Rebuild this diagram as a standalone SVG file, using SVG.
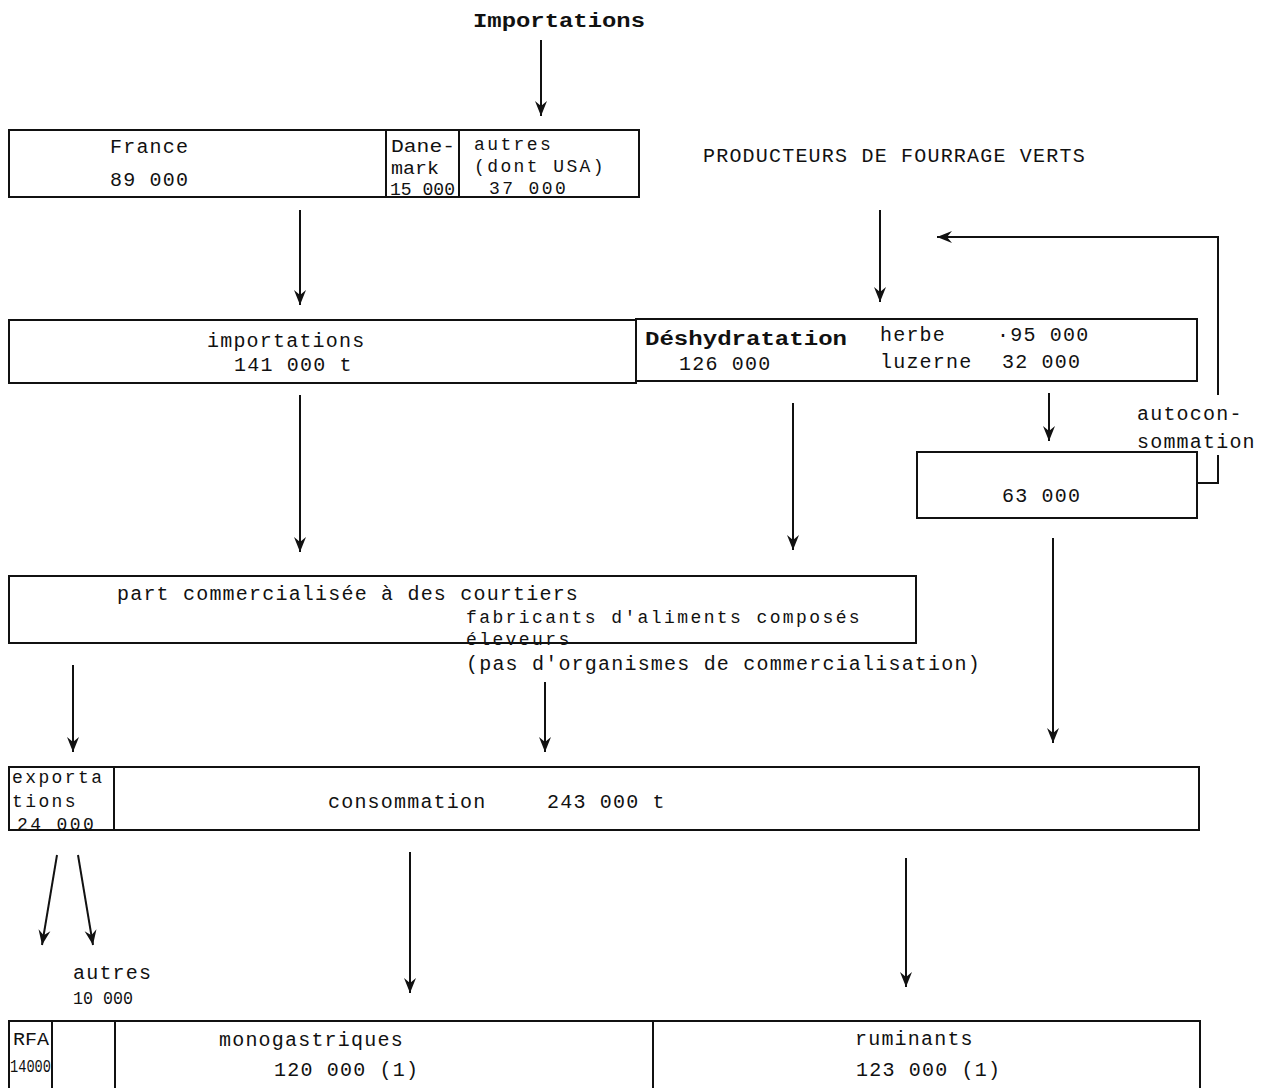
<svg xmlns="http://www.w3.org/2000/svg" width="1271" height="1088" viewBox="0 0 1271 1088">
  <style>
    text { font-family: "Liberation Mono", "DejaVu Sans Mono", monospace; font-size: 20px; letter-spacing: 1.2px; fill: #111; }
    .b { font-weight: bold; letter-spacing: 0; }
    .t { font-size: 18px; letter-spacing: 2.4px; }
    .sm { font-size: 18px; letter-spacing: 0; }
    .box { fill: none; stroke: #111; stroke-width: 2; }
    .ln { fill: none; stroke: #111; stroke-width: 2; }
    .arr { fill: none; stroke: #111; stroke-width: 2; marker-end: url(#ah); }
  </style>
  <defs>
    <marker id="ah" markerUnits="userSpaceOnUse" markerWidth="16" markerHeight="14" viewBox="0 0 16 14" refX="15" refY="7" orient="auto">
      <path d="M0,1 L15,7 L0,13 L5,7 Z" fill="#111"/>
    </marker>
  </defs>

  <!-- title above the import box -->
  <text class="b" x="473" y="27" textLength="172" lengthAdjust="spacingAndGlyphs">Importations</text>

  <!-- origin of imports -->
  <g id="origines">
    <rect class="box" x="9" y="130" width="630" height="67"/>
    <line class="ln" x1="386" y1="130" x2="386" y2="197"/>
    <line class="ln" x1="459" y1="130" x2="459" y2="197"/>
    <text x="110" y="153">France</text>
    <text x="110" y="186">89 000</text>
    <text class="sm" x="391" y="152" textLength="64" lengthAdjust="spacingAndGlyphs">Dane-</text>
    <text class="sm" x="391" y="174" textLength="48" lengthAdjust="spacingAndGlyphs">mark</text>
    <text class="sm" x="390" y="195" textLength="65" lengthAdjust="spacingAndGlyphs">15 000</text>
    <text class="t" x="474" y="150">autres</text>
    <text class="t" x="474" y="172">(dont USA)</text>
    <text class="t" x="489" y="194">37 000</text>
  </g>

  <g id="producteurs">
    <text x="703" y="162">PRODUCTEURS DE FOURRAGE VERTS</text>
  </g>

  <!-- imports total and dehydration -->
  <g id="importations">
    <rect class="box" x="9" y="320" width="627" height="63"/>
    <text x="207" y="347">importations</text>
    <text x="234" y="371">141 000 t</text>
  </g>
  <g id="deshydratation">
    <rect class="box" x="636" y="319" width="561" height="62"/>
    <text class="b" x="645" y="345" textLength="202" lengthAdjust="spacingAndGlyphs">Déshydratation</text>
    <text x="679" y="370">126 000</text>
    <text x="880" y="341">herbe</text>
    <text x="997" y="341">·95 000</text>
    <text x="880" y="368">luzerne</text>
    <text x="1002" y="368">32 000</text>
  </g>

  <g id="autoconsommation">
    <rect class="box" x="917" y="452" width="280" height="66"/>
    <text x="1002" y="502">63 000</text>
  </g>
  <text x="1137" y="420">autocon-</text>
  <text x="1137" y="448">sommation</text>

  <!-- marketed share -->
  <g id="commercialisation">
    <rect class="box" x="9" y="576" width="907" height="67"/>
    <text x="117" y="600">part commercialisée à des courtiers</text>
    <text class="t" x="466" y="623">fabricants d'aliments composés</text>
    <text class="t" x="466" y="645">éleveurs</text>
  </g>
  <text x="466" y="670">(pas d'organismes de commercialisation)</text>

  <!-- consumption -->
  <g id="consommation">
    <rect class="box" x="9" y="767" width="1190" height="63"/>
    <line class="ln" x1="114" y1="767" x2="114" y2="830"/>
    <text class="t" x="12" y="783">exporta</text>
    <text class="t" x="12" y="807">tions</text>
    <text class="t" x="17" y="830">24 000</text>
    <text x="328" y="808">consommation</text>
    <text x="547" y="808">243 000 t</text>
  </g>

  <text x="73" y="979">autres</text>
  <text class="sm" x="73" y="1004" textLength="60" lengthAdjust="spacingAndGlyphs">10 000</text>

  <!-- final uses -->
  <g id="utilisations">
    <rect class="box" x="9" y="1021" width="1191" height="90"/>
    <line class="ln" x1="52" y1="1021" x2="52" y2="1088"/>
    <line class="ln" x1="115" y1="1021" x2="115" y2="1088"/>
    <line class="ln" x1="653" y1="1021" x2="653" y2="1088"/>
    <text class="sm" x="13" y="1045" textLength="36" lengthAdjust="spacingAndGlyphs">RFA</text>
    <text class="sm" x="10" y="1072" textLength="41" lengthAdjust="spacingAndGlyphs">14000</text>
    <text x="219" y="1046">monogastriques</text>
    <text x="274" y="1076">120 000 (1)</text>
    <text x="855" y="1045">ruminants</text>
    <text x="856" y="1076">123 000 (1)</text>
  </g>

  <!-- flows -->
  <g id="connecteurs">
    <line class="arr" x1="541" y1="40" x2="541" y2="116"/>
    <line class="arr" x1="300" y1="210" x2="300" y2="305"/>
    <line class="arr" x1="880" y1="210" x2="880" y2="302"/>
    <line class="arr" x1="300" y1="395" x2="300" y2="552"/>
    <line class="arr" x1="793" y1="403" x2="793" y2="550"/>
    <line class="arr" x1="1049" y1="393" x2="1049" y2="441"/>
    <polyline class="ln" points="1197,483 1218,483 1218,455"/>
    <polyline class="arr" points="1218,395 1218,237 937,237"/>
    <line class="arr" x1="1053" y1="538" x2="1053" y2="743"/>
    <line class="arr" x1="73" y1="665" x2="73" y2="752"/>
    <line class="arr" x1="545" y1="682" x2="545" y2="752"/>
    <line class="arr" x1="57" y1="855" x2="42" y2="945"/>
    <line class="arr" x1="78" y1="855" x2="93" y2="945"/>
    <line class="arr" x1="410" y1="852" x2="410" y2="993"/>
    <line class="arr" x1="906" y1="858" x2="906" y2="987"/>
  </g>
</svg>
